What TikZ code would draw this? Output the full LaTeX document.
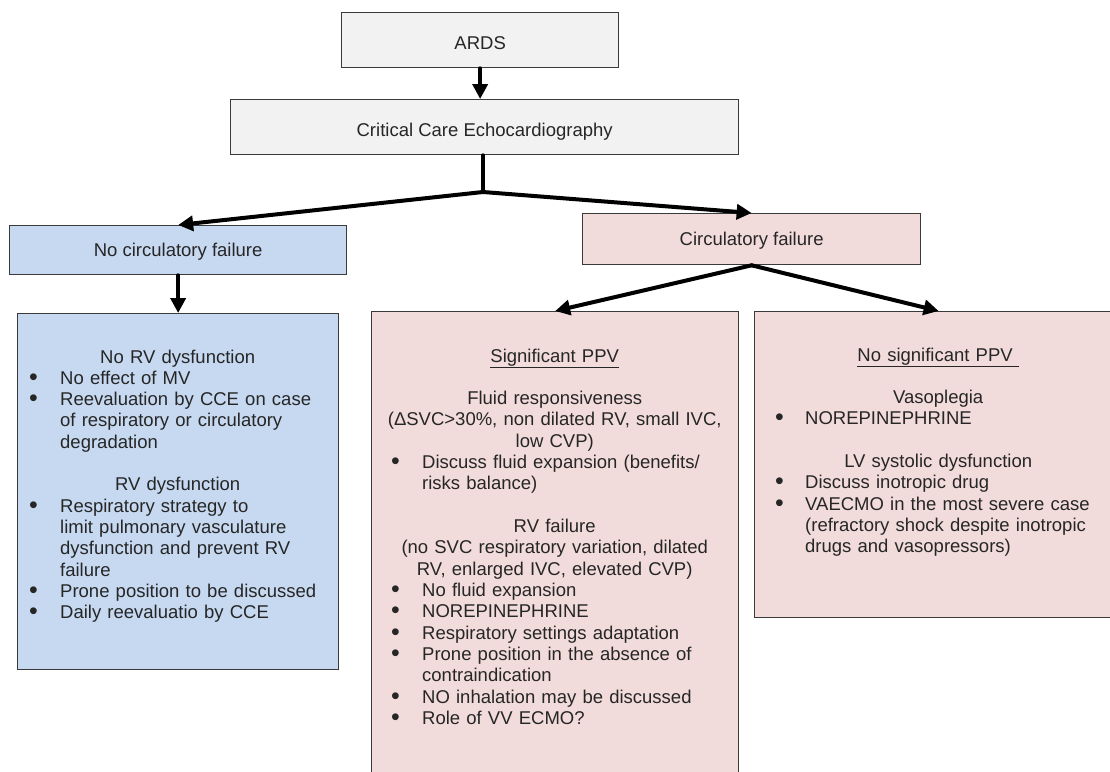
\documentclass[tikz,border=0pt]{standalone}
\usepackage{fontspec}
\setmainfont{Liberation Sans}
\usetikzlibrary{arrows.meta}

\definecolor{boxgray}{HTML}{F2F2F2}
\definecolor{boxblue}{HTML}{C6D9F1}
\definecolor{boxpink}{HTML}{F2DCDB}
\definecolor{edgegray}{HTML}{3A3A3A}
\definecolor{textgray}{HTML}{262626}

% Bullet lines with hanging indent
\newlength{\bulofs}
\newlength{\bulind}
\newcommand{\bul}[1]{\par\noindent\hangindent=\bulind\hangafter=1\makebox[\bulind][l]{\hspace{\bulofs}\raisebox{-1pt}{\scalebox{1.35}{\textbullet}}}#1\par}
\newcommand{\centred}[1]{{\centering #1\par}}
\newcommand{\skipline}{\par\vspace{\baselineskip}}

\tikzset{
    flowbox/.style={draw=edgegray, line width=1.3pt, inner sep=0pt, anchor=north west,
        text=textgray, text height=13pt, text depth=0pt},
    boxtext/.style={anchor=base west, inner sep=0pt, text=textgray, text width=#1},
    flow/.style={line width=4pt, line cap=round, -{Triangle[length=15pt,width=15pt]}},
    stem/.style={line width=4pt, line cap=round},
}

\begin{document}
\begin{tikzpicture}[x=1pt, y=-1pt, every node/.style={font=\fontsize{18.5pt}{21.33pt}\selectfont}]
    \useasboundingbox (0,0) rectangle (1110,771);

    % Top boxes
    \node [flowbox, fill=boxgray, minimum width=277pt, minimum height=55pt, text height=18pt] (ards) at (341,12) {ARDS};
    \node [flowbox, fill=boxgray, minimum width=508pt, minimum height=55pt, text height=18pt] (cce) at (230,99) {Critical Care Echocardiography};

    % Second level
    \node [flowbox, fill=boxblue, minimum width=337pt, minimum height=49pt] (nocirc) at (9,225) {No circulatory failure};
    \node [flowbox, fill=boxpink, minimum width=338pt, minimum height=51pt] (circ) at (582,213) {Circulatory failure};

    % Large boxes
    \node [flowbox, fill=boxblue, minimum width=321pt, minimum height=356pt] (nordv) at (17,313) {};
    \node [flowbox, fill=boxpink, minimum width=367pt, minimum height=470pt] (sigppv) at (371,311) {};
    \node [flowbox, fill=boxpink, minimum width=368pt, minimum height=306pt] (nosig) at (754,311) {};

    % Text of the large boxes
    \node [boxtext=321pt] (nordvtext) at ([yshift=-50pt]nordv.north west) {\raggedright
        \setlength{\bulofs}{12pt}\setlength{\bulind}{43pt}%
        \centred{No RV dysfunction}
        \bul{No effect of MV}
        \bul{Reevaluation by CCE on case\newline of respiratory or circulatory\newline degradation}
        \skipline
        \centred{RV dysfunction}
        \bul{Respiratory strategy to\newline limit pulmonary vasculature\newline dysfunction and prevent RV\newline failure}
        \bul{Prone position to be discussed}
        \bul{Daily reevaluatio by CCE}};

    \node [boxtext=367pt] (sigppvtext) at ([yshift=-51pt]sigppv.north west) {\raggedright
        \setlength{\bulofs}{20pt}\setlength{\bulind}{51pt}%
        \centred{\underline{Significant PPV}}
        \skipline
        \centred{Fluid responsiveness\\(ΔSVC>30\%, non dilated RV, small IVC,\\low CVP)}
        \bul{Discuss fluid expansion (benefits/\newline risks balance)}
        \skipline
        \centred{RV failure\\(no SVC respiratory variation, dilated\\RV, enlarged IVC, elevated CVP)}
        \bul{No fluid expansion}
        \bul{NOREPINEPHRINE}
        \bul{Respiratory settings adaptation}
        \bul{Prone position in the absence of\newline contraindication}
        \bul{NO inhalation may be discussed}
        \bul{Role of VV ECMO?}};

    \node [boxtext=368pt] (nosigtext) at ([yshift=-50pt]nosig.north west) {\raggedright
        \setlength{\bulofs}{21pt}\setlength{\bulind}{51pt}%
        \centred{\underline{No significant PPV\ }}
        \skipline
        \centred{Vasoplegia}
        \bul{NOREPINEPHRINE}
        \skipline
        \centred{LV systolic dysfunction}
        \bul{Discuss inotropic drug}
        \bul{VAECMO in the most severe case\newline (refractory shock despite inotropic\newline drugs and vasopressors)}};

    % Arrows
    \coordinate (split) at (483,192);
    \draw [flow] (ards.south) -- (ards.south |- cce.north);
    \draw [stem] (cce.south -| split) -- (split);
    \draw [flow] (split) -- (nocirc.north);
    \draw [flow] (split) -- (circ.north);
    \draw [flow] (nocirc.south) -- (nordv.north);
    \draw [flow] (circ.south) -- (sigppv.north);
    \draw [flow] (circ.south) -- (nosig.north);

\end{tikzpicture}
\end{document}
